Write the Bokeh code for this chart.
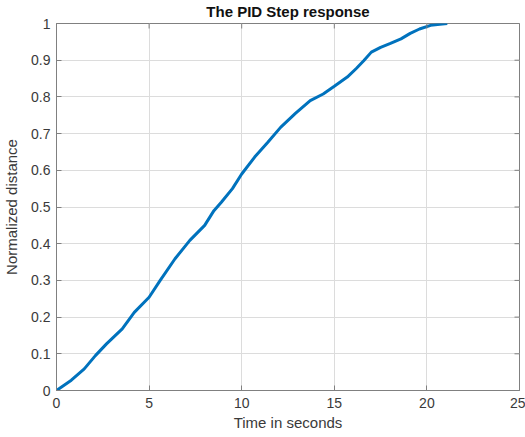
import math
from bokeh.plotting import figure
from bokeh.models import FixedTicker, Range1d
from bokeh.embed import file_html
from bokeh.resources import INLINE

# Data
time_s = [0, 0.8, 1.5, 2.1, 2.7, 3.55, 4.2, 5.0, 5.6, 6.4, 7.2, 8.0, 8.5, 8.9,
          9.5, 10.0, 10.7, 11.4, 12.1, 12.9, 13.7, 14.4, 15.0, 15.7, 16.2,
          16.6, 17.0, 17.5, 18.0, 18.6, 19.1, 19.6, 20.2, 20.7, 21.1]
distance = [0, 0.028, 0.059, 0.095, 0.127, 0.168, 0.213, 0.254, 0.30, 0.359,
            0.409, 0.45, 0.49, 0.513, 0.55, 0.59, 0.636, 0.676, 0.717, 0.755,
            0.79, 0.808, 0.829, 0.854, 0.878, 0.899, 0.922, 0.935, 0.945,
            0.958, 0.973, 0.985, 0.995, 0.998, 1.0]
x_ticks = [0, 5, 10, 15, 20, 25]
y_ticks = [0, 0.1, 0.2, 0.3, 0.4, 0.5, 0.6, 0.7, 0.8, 0.9, 1.0]
y_tick_labels = ["0", "0.1", "0.2", "0.3", "0.4", "0.5", "0.6", "0.7", "0.8", "0.9", "1"]

FONT = "Liberation Sans"
AXIS_COLOR = "#808080"
LABEL_COLOR = "#3a3a3a"

p = figure(width=525, height=437, output_backend="svg", toolbar_location=None,
           x_range=Range1d(0, 25), y_range=Range1d(0, 1),
           title="The PID Step response",
           min_border_left=56, min_border_right=6, min_border_top=0,
           min_border_bottom=47)

p.title.align = "center"
p.title.vertical_align = "top"
p.title.text_font = FONT
p.title.text_font_size = "15px"
p.title.text_font_style = "bold"
p.title.text_color = "#111111"
p.title.standoff = 4
p.title.offset = 0

p.outline_line_color = AXIS_COLOR
p.outline_line_width = 1

p.xgrid.ticker = FixedTicker(ticks=x_ticks)
p.ygrid.ticker = FixedTicker(ticks=y_ticks)
p.grid.grid_line_color = "#dcdcdc"
p.grid.grid_line_width = 1

p.line(time_s, distance, line_color="#0072BD", line_width=3)

for ax in (p.xaxis[0], p.yaxis[0]):
    ax.axis_line_color = AXIS_COLOR
    ax.major_tick_line_color = AXIS_COLOR
    ax.minor_tick_line_color = None
    ax.major_tick_in = 5
    ax.major_tick_out = 0
    ax.major_label_text_font = FONT
    ax.major_label_text_font_size = "14px"
    ax.major_label_text_color = LABEL_COLOR
    ax.axis_label_text_font = FONT
    ax.axis_label_text_font_size = "15px"
    ax.axis_label_text_font_style = "normal"
    ax.axis_label_text_color = LABEL_COLOR

p.xaxis[0].ticker = FixedTicker(ticks=x_ticks)
p.yaxis[0].ticker = FixedTicker(ticks=y_ticks)
p.yaxis[0].major_label_overrides = {t: s for t, s in zip(y_ticks, y_tick_labels)}
p.xaxis[0].major_label_overrides = {t: str(t) for t in x_ticks}
p.xaxis[0].axis_label = "Time in seconds"
p.yaxis[0].axis_label = "Normalized distance"
p.xaxis[0].major_label_standoff = 7
p.yaxis[0].major_label_standoff = 6
p.xaxis[0].axis_label_standoff = 3
p.yaxis[0].axis_label_standoff = 8

# Inward box ticks on the top and right edges (clipped to the frame)
p.scatter(x_ticks, [1.0] * len(x_ticks), marker="dash", size=10,
          angle=math.pi / 2, line_color=AXIS_COLOR, line_width=1)
p.scatter([25.0] * len(y_ticks), y_ticks, marker="dash", size=10,
          line_color=AXIS_COLOR, line_width=1)

open("out.html", "w").write(file_html(p, INLINE))
